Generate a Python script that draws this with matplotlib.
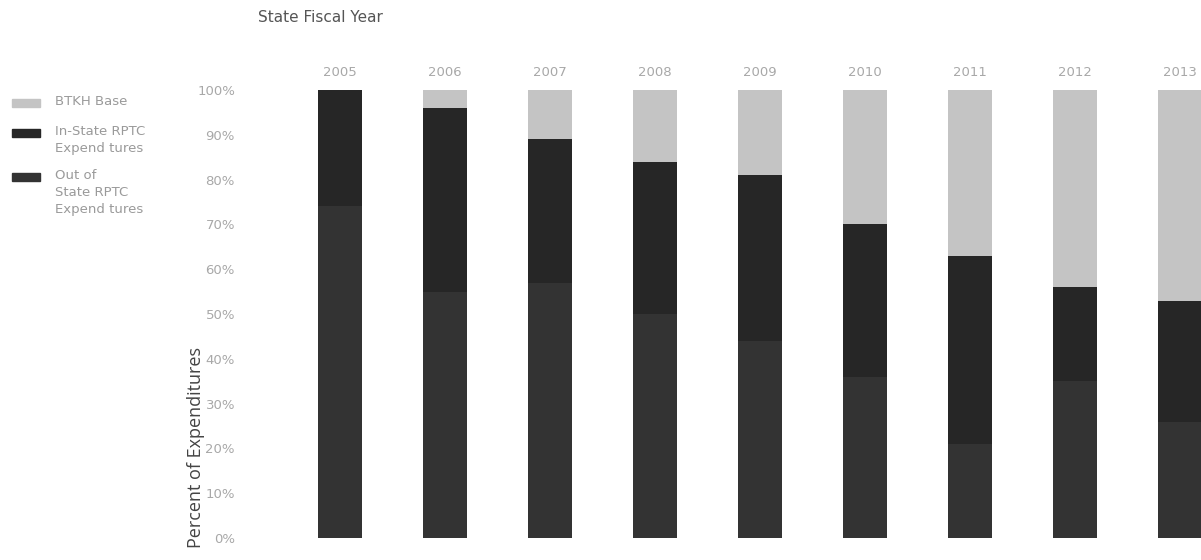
import numpy as np
import matplotlib
matplotlib.use("Agg")
import matplotlib.pyplot as plt
from matplotlib.patches import Rectangle

# share of expenditures by state fiscal year (percent)
years = ["2005", "2006", "2007", "2008", "2009", "2010", "2011", "2012", "2013"]
out_of_state = [74, 55, 57, 50, 44, 36, 21, 35, 26]
in_state = [26, 41, 32, 34, 37, 34, 42, 21, 27]
btkh_base = [0, 4, 11, 16, 19, 30, 37, 44, 47]
y_ticks = [0, 10, 20, 30, 40, 50, 60, 70, 80, 90, 100]

c_btkh = "#c4c4c4"
c_in = "#262626"
c_out = "#333333"
c_text = "#9a9a9a"

fig = plt.figure(figsize=(12.01, 5.6), dpi=100)
ax = fig.add_axes([285 / 1201, 1 - 538 / 560, 1 - 285 / 1201, (538 - 90) / 560])

x = np.arange(len(years))
w = 0.42
ax.bar(x, out_of_state, w, color=c_out)
ax.bar(x, in_state, w, bottom=out_of_state, color=c_in)
bottom2 = np.array(out_of_state) + np.array(in_state)
ax.bar(x, btkh_base, w, bottom=bottom2, color=c_btkh)

ax.set_xlim(-0.52, 8.2)
ax.set_ylim(0, 100)
ax.set_yticks(y_ticks)
ax.set_yticklabels([f"{t}%" for t in y_ticks], color="#a8a8a8", fontsize=9.5)
ax.tick_params(axis="y", length=0, pad=36)
ax.xaxis.tick_top()
ax.set_xticks(x)
ax.set_xticklabels(years, color="#a8a8a8", fontsize=9.5)
ax.tick_params(axis="x", length=0, pad=8)
for s in ax.spines.values():
    s.set_visible(False)

fig.text(258 / 1201, 1 - 17 / 560, "State Fiscal Year", fontsize=11,
         color="#555555", va="center", ha="left")
fig.text(196 / 1201, 1 - 448 / 560, "Percent of Expenditures", fontsize=13,
         family="Open Sans", color="#444444", rotation=90, va="center", ha="center")

# legend drawn by hand on the left
legend_items = [
    (c_btkh, "BTKH Base", 103),
    (c_in, "In-State RPTC\nExpend tures", 133),
    (c_out, "Out of\nState RPTC\nExpend tures", 177),
]
for col, label, ypix in legend_items:
    fig.patches.append(Rectangle((12 / 1201, 1 - (ypix + 4) / 560), 28 / 1201, 8 / 560,
                                 transform=fig.transFigure, color=col))
    fig.text(55 / 1201, 1 - (ypix - 8) / 560, label, fontsize=9.5, color=c_text,
             va="top", ha="left", linespacing=1.4)

fig.savefig("out.png", dpi=100, facecolor="white")
